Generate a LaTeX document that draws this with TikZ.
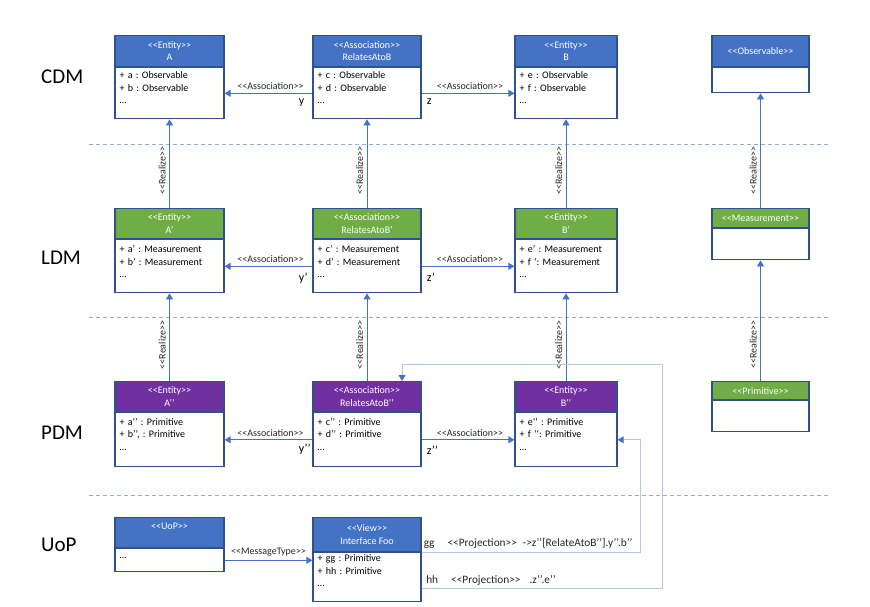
\documentclass[tikz,border=0pt]{standalone}
\usepackage{fontspec}
\setmainfont{Carlito}[Ligatures=TeXOff]
\frenchspacing
\usetikzlibrary{arrows.meta,positioning}
\definecolor{hdrblue}{HTML}{4472C4}
\definecolor{hdrgreen}{HTML}{70AD47}
\definecolor{hdrpurple}{HTML}{7030A0}
\definecolor{boxline}{HTML}{2F528F}
\definecolor{linkblue}{HTML}{4472C4}
\definecolor{projline}{HTML}{B4C7E7}
\definecolor{sepline}{HTML}{8FAADC}
\newcommand\boxfont{\fontsize{10}{12.5}\selectfont}

\tikzset{
  hdr/.style n args={3}{draw=boxline, fill=#1, text=white, line width=1.2pt,
    minimum width=#2, minimum height=#3, inner sep=0pt, align=center,
    font=\boxfont, anchor=north},
  body/.style={draw=boxline, fill=white, line width=1.2pt, minimum width=#1,
    text width=#1-9pt, inner xsep=4.5pt, inner ysep=4.5pt, align=left,
    font=\boxfont},
  cdmrow/.style={text height=6.5pt, text depth=35.5pt},
  ldmrow/.style={text height=8.3pt, text depth=35.7pt},
  pdmrow/.style={text height=8pt, text depth=37pt},
  link/.style={draw=linkblue, line width=0.75pt, -{Triangle[width=7pt,length=6pt]}},
  proj/.style={draw=projline, line width=0.75pt,
    -{Triangle[width=7pt,length=6pt,color=linkblue]}},
  sep/.style={draw=sepline, line width=0.8pt, dash pattern=on 4pt off 3pt},
  lbl/.style={font=\fontsize{10}{12}\selectfont, text=black!85},
  projlbl/.style={font=\fontsize{11.3}{13}\selectfont, text=black!85,
    anchor=base west, inner sep=0pt},
  role/.style={font=\fontsize{12}{14}\selectfont, inner sep=0pt, anchor=base west},
  layer/.style={font=\fontsize{21}{24}\selectfont, anchor=base west, inner sep=0pt}
}

\begin{document}
\begin{tikzpicture}[x=1pt,y=-1pt]
\useasboundingbox[fill=white] (0,0) rectangle (870,606);

% layer separators
\draw[sep] (89,144) -- (830,144);
\draw[sep] (89,317) -- (830,317);
\draw[sep] (89,495) -- (830,495);

\node[layer] (cdmlbl) at (41,83) {CDM};
\node[layer] (ldmlbl) at (41,264) {LDM};
\node[layer] (pdmlbl) at (41,439) {PDM};
\node[layer] (uoplbl) at (41,551) {UoP};

% CDM
\node[hdr={hdrblue}{109pt}{31pt}] (Ahead) at (169.5,35) {<<Entity>>\\A};
\node[body=109pt, cdmrow, below=0pt of Ahead] (A) {+ a : Observable\\+ b : Observable\\…};
\node[hdr={hdrblue}{108pt}{31pt}] (Rhead) at (367,35) {<<Association>>\\RelatesAtoB};
\node[body=108pt, cdmrow, below=0pt of Rhead] (R) {+ c : Observable\\+ d : Observable\\…};
\node[hdr={hdrblue}{102pt}{31pt}] (Bhead) at (566,35) {<<Entity>>\\B};
\node[body=102pt, cdmrow, below=0pt of Bhead] (B) {+ e : Observable\\+ f : Observable\\…};
\node[hdr={hdrblue}{97pt}{31pt}] (Obshead) at (760.5,35) {<<Observable>>};
\node[body=97pt, text height=0pt, text depth=16pt, below=0pt of Obshead] (Obs) {};

% LDM
\node[hdr={hdrgreen}{109pt}{30pt}] (A1head) at (169.5,208) {<<Entity>>\\A’};
\node[body=109pt, ldmrow, below=0pt of A1head] (A1) {+ a’ : Measurement\\+ b’ : Measurement\\…};
\node[hdr={hdrgreen}{108pt}{30pt}] (R1head) at (367,208) {<<Association>>\\RelatesAtoB’};
\node[body=108pt, ldmrow, below=0pt of R1head] (R1) {+ c’ : Measurement\\+ d’ : Measurement\\…};
\node[hdr={hdrgreen}{102pt}{30pt}] (B1head) at (566,208) {<<Entity>>\\B’};
\node[body=102pt, ldmrow, below=0pt of B1head] (B1) {+ e’ : Measurement\\+ f ‘: Measurement\\…};
\node[hdr={hdrgreen}{97pt}{19pt}] (Meashead) at (760.5,208) {<<Measurement>>};
\node[body=97pt, text height=0pt, text depth=22pt, below=0pt of Meashead] (Meas) {};

% PDM
\node[hdr={hdrpurple}{109pt}{30pt}] (A2head) at (169.5,381) {<<Entity>>\\A’’};
\node[body=109pt, pdmrow, below=0pt of A2head] (A2) {+ a’’ : Primitive\\+ b’’, : Primitive\\…};
\node[hdr={hdrpurple}{108pt}{30pt}] (R2head) at (367,381) {<<Association>>\\RelatesAtoB’’};
\node[body=108pt, pdmrow, below=0pt of R2head] (R2) {+ c’’ : Primitive\\+ d’’ : Primitive\\…};
\node[hdr={hdrpurple}{102pt}{30pt}] (B2head) at (566,381) {<<Entity>>\\B’’};
\node[body=102pt, pdmrow, below=0pt of B2head] (B2) {+ e’’ : Primitive\\+ f ‘‘: Primitive\\…};
\node[hdr={hdrgreen}{97pt}{18pt}] (Primhead) at (760.5,381) {<<Primitive>>};
\node[body=97pt, text height=0pt, text depth=22pt, below=0pt of Primhead] (Prim) {};

% UoP
\node[hdr={hdrblue}{109pt}{30pt}] (UoPhead) at (169.5,517) {<<UoP>>\\~};
\node[body=109pt, text height=5.5pt, text depth=8.5pt, below=0pt of UoPhead] (UoP) {…};
\node[hdr={hdrblue}{108pt}{34pt}] (Viewhead) at (367,517) {<<View>>\\Interface Foo};
\node[body=108pt, text height=4.5pt, text depth=35.5pt, below=0pt of Viewhead] (View) {+ gg : Primitive\\+ hh : Primitive\\…};

% associations
\draw[link] (R.west) -- node[lbl, above, xshift=2pt] {<<Association>>} (A.east)
  node[role, pos=0, xshift=-14pt, yshift=-11pt] {y};
\draw[link] (R.east) -- node[lbl, above, xshift=2pt] {<<Association>>} (B.west)
  node[role, pos=0, xshift=5pt, yshift=-11pt] {z};
\draw[link] (R1.west) -- node[lbl, above, xshift=2pt] {<<Association>>} (A1.east)
  node[role, pos=0, xshift=-14pt, yshift=-15pt] {y’};
\draw[link] (R1.east) -- node[lbl, above, xshift=2pt] {<<Association>>} (B1.west)
  node[role, pos=0, xshift=5pt, yshift=-15pt] {z’};
\draw[link] (R2.west) -- node[lbl, above, xshift=2pt] {<<Association>>} (A2.east)
  node[role, pos=0, xshift=-14pt, yshift=-13pt] {y’’};
\draw[link] (R2.east) -- node[lbl, above, xshift=2pt] {<<Association>>} (B2.west)
  node[role, pos=0, xshift=5pt, yshift=-15pt] {z’’};
\draw[link] (UoP.east) -- node[lbl, above] {<<MessageType>>} (View.west |- UoP.east);

% realizations
\draw[link] (A1head.north) -- node[lbl, pos=.42, rotate=90, anchor=south] {<<Realize>>} (A.south);
\draw[link] (R1head.north) -- node[lbl, pos=.42, rotate=90, anchor=south] {<<Realize>>} (R.south);
\draw[link] (B1head.north) -- node[lbl, pos=.42, rotate=90, anchor=south] {<<Realize>>} (B.south);
\draw[link] (Meashead.north) -- node[lbl, pos=.325, rotate=90, anchor=south] {<<Realize>>} (Obs.south);
\draw[link] (A2head.north) -- node[lbl, pos=.41, rotate=90, anchor=south] {<<Realize>>} (A1.south);
\draw[link] (R2head.north) -- node[lbl, pos=.41, rotate=90, anchor=south] {<<Realize>>} (R1.south);
\draw[link] (B2head.north) -- node[lbl, pos=.41, rotate=90, anchor=south] {<<Realize>>} (B1.south);
\draw[link] (Primhead.north) -- node[lbl, pos=.30, rotate=90, anchor=south] {<<Realize>>} (Meas.south);

% projections
\coordinate (hhout) at ([yshift=-36pt]View.north east);
\draw[proj] (View.north east) -| ([xshift=23pt]B2.east) -- (B2.east);
\draw[proj] (hhout) -| ([xshift=45pt,yshift=17pt]B2head.north east) -| ([xshift=35pt]R2head.north);
\node[projlbl] (ggtxt) at ([xshift=2pt,yshift=6pt]View.north east)
  {gg\hspace{13pt}<<Projection>>\hspace{6pt}->z’’[RelateAtoB’’].y’’.b’’};
\node[projlbl] (hhtxt) at ([xshift=4.5pt,yshift=5pt]hhout)
  {hh\hspace{13pt}<<Projection>>\hspace{9pt}.z’’.e’’};
\end{tikzpicture}
\end{document}
